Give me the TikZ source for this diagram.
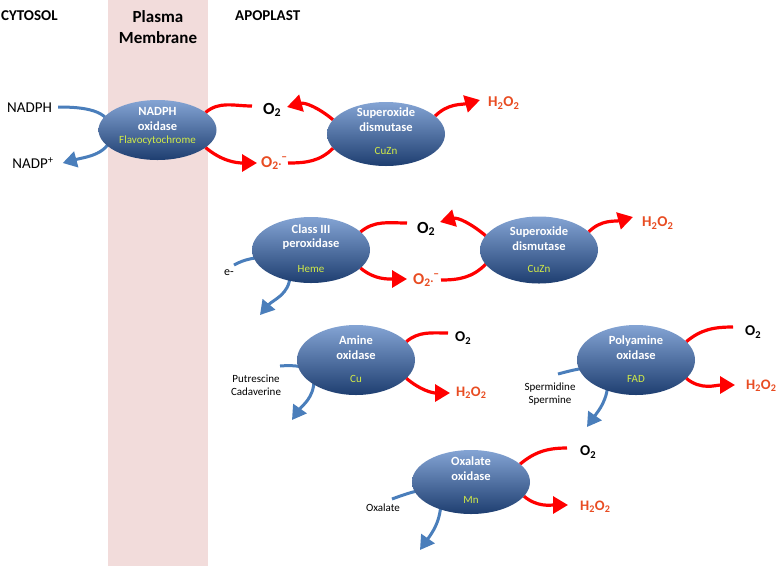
\documentclass[tikz,border=0pt]{standalone}
\usepackage{fontspec}
\setmainfont{Carlito}
\usetikzlibrary{arrows.meta,shapes.geometric}
\pgfdeclarelayer{bg}
\pgfsetlayers{bg,main}
\definecolor{bandc}{RGB}{242,220,219}
\definecolor{etop}{RGB}{132,164,212}
\definecolor{ebot}{RGB}{30,62,112}
\definecolor{cofc}{RGB}{210,235,70}
\definecolor{bluea}{RGB}{74,126,187}
\definecolor{reda}{RGB}{255,0,0}
\definecolor{prodc}{RGB}{232,76,34}
\newcommand{\supox}{O\textsubscript{2}{\fontsize{10}{10}\selectfont\raisebox{-0.1ex}{·}}\textsuperscript{–}}
\newcommand{\htwo}{H\textsubscript{2}O\textsubscript{2}}
\begin{document}
\begin{tikzpicture}[x=1pt,y=1pt,
 enz/.style={ellipse, draw=none, top color=etop, bottom color=ebot, minimum width=118pt, minimum height=66pt, inner sep=0pt, outer sep=0pt},
 ename/.style={text=white, font=\fontsize{12.5}{14.5}\selectfont\bfseries, align=center, inner sep=0pt},
 ecof/.style={text=cofc, font=\fontsize{11}{12}\selectfont, inner sep=0pt},
 redline/.style={draw=reda, line width=3.2pt},
 redarr/.style={redline, -{Triangle[length=15pt,width=17pt]}},
 bluearr/.style={draw=bluea, line width=3pt, -{Triangle[length=14pt,width=16pt]}},
 otwo/.style={font=\fontsize{17}{17}\selectfont\bfseries, inner sep=0pt, anchor=west},
 otwos/.style={font=\fontsize{15}{15}\selectfont\bfseries, inner sep=0pt, anchor=west},
 radl/.style={text=prodc, font=\fontsize{16.5}{16.5}\selectfont\bfseries, inner sep=0pt, anchor=west},
 prodl/.style={text=prodc, font=\fontsize{15}{15}\selectfont\bfseries, inner sep=0pt, anchor=west},
 prods/.style={text=prodc, font=\fontsize{14.5}{14.5}\selectfont\bfseries, inner sep=0pt, anchor=west},
 head/.style={font=\fontsize{15}{16}\selectfont\bfseries, inner sep=0pt},
 bigl/.style={font=\fontsize{15}{15}\selectfont, inner sep=0pt},
 smalll/.style={font=\fontsize{11}{13.5}\selectfont, inner sep=0pt, align=center}
]
\useasboundingbox (0,0) rectangle (777,-566);
\begin{pgfonlayer}{bg}
\fill[bandc] (108,0) rectangle (208,-566);
\end{pgfonlayer}

% headers
\node[head, anchor=west] (cyt) at (1,-16) {CYTOSOL};
\node[head, font=\fontsize{17}{21}\selectfont\bfseries, align=center] (pm) at (158,-27.5) {Plasma\\Membrane};
\node[head, anchor=west] (apo) at (235,-16) {APOPLAST};

% enzymes
\node[enz, minimum height=60pt] (n1) at (157.5,-130) {};
\node[ename] at ([yshift=11pt]n1.center) {NADPH\\oxidase};
\node[ecof] at ([yshift=-11pt]n1.center) {Flavocytochrome};

\node[enz, minimum height=64pt] (s1) at (386,-134) {};
\node[ename] at ([yshift=14.5pt]s1.center) {Superoxide\\dismutase};
\node[ecof] at ([yshift=-17pt]s1.center) {CuZn};

\node[enz] (c3) at (311,-250) {};
\node[ename] at ([yshift=13pt]c3.center) {Class III\\peroxidase};
\node[ecof] at ([yshift=-19pt]c3.center) {Heme};

\node[enz, minimum height=67pt] (s2) at (539,-250) {};
\node[ename] at ([yshift=11.5pt]s2.center) {Superoxide\\dismutase};
\node[ecof] at ([yshift=-19pt]s2.center) {CuZn};

\node[enz, minimum height=70pt] (a1) at (356,-360) {};
\node[ename] at ([yshift=12.5pt]a1.center) {Amine\\oxidase};
\node[ecof] at ([yshift=-19pt]a1.center) {Cu};

\node[enz, minimum height=70pt] (p1) at (636,-360) {};
\node[ename] at ([yshift=12.5pt]p1.center) {Polyamine\\oxidase};
\node[ecof] at ([yshift=-19pt]p1.center) {FAD};

\node[enz, minimum height=64pt] (ox) at (471,-482) {};
\node[ename] at ([yshift=13.5pt]ox.center) {Oxalate\\oxidase};
\node[ecof] at ([yshift=-18pt]ox.center) {Mn};

% labels
\node[bigl] (nadph) at (29.5,-108) {NADPH};
\node[bigl] (nadpp) at (33,-163) {NADP\textsuperscript{+}};
\node[otwo] (o2a) at (263,-110) {O\textsubscript{2}};
\node[radl] (o2ra) at (261,-163) {\supox};
\node[prodl] (h2o2a) at (488,-103) {\htwo};

\node[otwo] (o2b) at (417,-229) {O\textsubscript{2}};
\node[radl] (o2rb) at (413,-280) {\supox};
\node[prodl] (h2o2b) at (642,-223) {\htwo};
\node[font=\fontsize{12}{12}\selectfont, inner sep=0pt, anchor=east] (elab) at (234,-273) {e-};

\node[otwos] (o2c) at (455,-338) {O\textsubscript{2}};
\node[prods] (h2o2c) at (456,-393) {\htwo};
\node[smalll] (putr) at (256,-385) {Putrescine\\Cadaverine};

\node[otwos] (o2d) at (745,-332) {O\textsubscript{2}};
\node[prods] (h2o2d) at (746,-386) {\htwo};
\node[smalll] (sperm) at (550,-394) {Spermidine\\Spermine};

\node[otwos] (o2e) at (580,-452) {O\textsubscript{2}};
\node[prods] (h2o2e) at (580,-507) {\htwo};
\node[smalll] (oxal) at (383,-508) {Oxalate};

% free ends of blue connectors
\coordinate (c3tip) at (260,-315);
\coordinate (a1in) at (280,-366);
\coordinate (a1tip) at (292,-420);
\coordinate (p1in) at (558,-374);
\coordinate (p1tip) at (587,-427);
\coordinate (oxin) at (392,-499);
\coordinate (oxtip) at (420,-550);

\begin{pgfonlayer}{bg}
% row 1
\draw[bluearr] ([xshift=6pt,yshift=1pt]nadph.east) to[out=0,in=90] ([xshift=-46pt,yshift=-2pt]n1.center) to[out=-90,in=15] ([xshift=9pt]nadpp.east);
\draw[redline] (n1.20) to[out=40,in=180] ([xshift=-11pt,yshift=4pt]o2a.west);
\draw[redarr] (n1.-20) to[out=-40,in=180] ([xshift=-4pt]o2ra.west);
\draw[redarr] (s1.165) to[out=140,in=15] ([xshift=24pt,yshift=3pt]o2a.west);
\draw[redline] ([xshift=27pt]o2ra.west) to[out=0,in=-135] (s1.195);
\draw[redarr] (s1.20) to[out=45,in=195] ([xshift=-8pt,yshift=3pt]h2o2a.west);
% row 2
\draw[bluearr] ([yshift=8pt]elab.east) to[out=30,in=90] ([xshift=-21pt,yshift=-25pt]c3.center) to[out=-90,in=50] (c3tip);
\draw[redline] (c3.20) to[out=40,in=180] ([xshift=-10pt,yshift=6pt]o2b.west);
\draw[redarr] (c3.-20) to[out=-40,in=180] ([xshift=-6pt,yshift=1pt]o2rb.west);
\draw[redarr] (s2.165) to[out=140,in=15] ([xshift=23pt,yshift=7pt]o2b.west);
\draw[redline] ([xshift=28pt]o2rb.west) to[out=0,in=-135] (s2.195);
\draw[redarr] (s2.20) to[out=45,in=195] ([xshift=-9pt,yshift=6pt]h2o2b.west);
% amine oxidase
\draw[bluearr] (a1in) to[out=5,in=90] ([xshift=-42pt,yshift=-20pt]a1.center) to[out=-90,in=55] (a1tip);
\draw[redline] (a1.20) to[out=40,in=180] ([xshift=-7pt,yshift=5pt]o2c.west);
\draw[redarr] (a1.-20) to[out=-40,in=180] ([xshift=-6pt]h2o2c.west);
% polyamine oxidase
\draw[bluearr] (p1in) to[out=15,in=90] ([xshift=-28pt,yshift=-20pt]p1.center) to[out=-90,in=55] (p1tip);
\draw[redline] (p1.20) to[out=40,in=180] ([xshift=-12pt,yshift=5pt]o2d.west);
\draw[redarr] (p1.-20) to[out=-40,in=180] ([xshift=-11pt,yshift=1pt]h2o2d.west);
% oxalate oxidase
\draw[bluearr] (oxin) to[out=20,in=90] ([xshift=-30pt,yshift=-18pt]ox.center) to[out=-90,in=55] (oxtip);
\draw[redline] (ox.20) to[out=40,in=180] ([xshift=-13pt,yshift=4pt]o2e.west);
\draw[redarr] (ox.-15) to[out=-40,in=180] ([xshift=-12pt,yshift=2pt]h2o2e.west);
\end{pgfonlayer}
\end{tikzpicture}
\end{document}
